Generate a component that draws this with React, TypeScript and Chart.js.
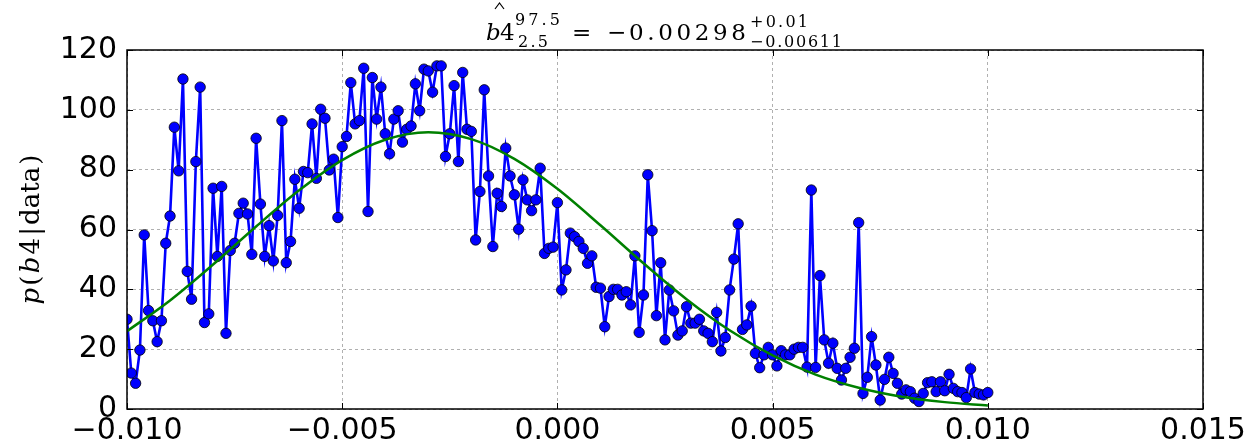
import { useEffect, useRef } from "react";
import { Chart, registerables } from "chart.js";

Chart.register(...registerables);

// ---- data ----
const X_START = -0.01;
const X_STEP = 0.0001;

const posteriorValues = [
  30, 12, 8.6, 19.7, 58.2, 32.9, 29.5, 22.5, 29.5, 55.4,
  64.5, 94.2, 79.6, 110.3, 46, 36.7, 82.7, 107.6, 28.9, 31.8,
  73.8, 51, 74.4, 25.3, 53, 55.4, 65.4, 68.8, 65.2, 51.7,
  90.5, 68.5, 51, 61.3, 49.5, 64.7, 96.4, 48.9, 56, 76.8,
  67.1, 79.4, 79, 95.3, 77.1, 100.2, 97.2, 79.9, 83.5, 64,
  87.7, 91.1, 109.1, 95.3, 96.4, 113.9, 66, 110.8, 96.9, 107.6,
  92, 85.3, 96.9, 99.7, 89.2, 93.5, 94.6, 108.7, 99.7, 113.6,
  113, 105.9, 114.7, 114.7, 84.4, 92, 108.1, 82.7, 112.5, 93.5,
  92.8, 56.5, 72.7, 106.7, 77.9, 54.3, 72.1, 67.7, 87.2, 77.9,
  71.6, 60.1, 76.6, 69.9, 66.3, 69.9, 80.5, 52, 53.7, 54.1,
  69, 39.8, 46.5, 58.8, 57.6, 56, 53.7, 48.7, 51.2, 40.7,
  40.4, 27.5, 37.6, 40, 40, 38.1, 39.2, 34.8, 51.2, 25.6,
  38.1, 78.3, 59.6, 31.2, 48.9, 23.1, 39.8, 32.8, 24.7, 26.1,
  34.2, 28.7, 28.7, 30, 26.1, 25.3, 22.5, 32.3, 19.4, 23.9,
  39.8, 50.1, 61.9, 26.6, 28.1, 34.4, 18.6, 13.8, 18.1, 20.6,
  18.1, 14.4, 19.5, 18.1, 18.1, 20, 20.6, 20.6, 14, 73.2,
  13.9, 44.6, 23.1, 15.3, 22, 13.6, 9.7, 13.6, 17.3, 20.3,
  62.3, 5.2, 10.6, 24.2, 14.7, 3, 9.9, 17.3, 11.9, 8.6,
  5, 6.4, 5.8, 3.6, 2.5, 5.2, 8.8, 9.1, 5.8, 9.1,
  6.1, 11.6, 6.9, 5.8, 5.5, 3.8, 13.4, 5.5, 5, 4.7,
  5.5,
];

const fitX = [
  -0.01, -0.009, -0.008, -0.007, -0.006, -0.005, -0.004, -0.003, -0.002, -0.001,
  0.0, 0.001, 0.002, 0.003, 0.004, 0.005, 0.006, 0.007, 0.008, 0.009, 0.01,
];
const fitY = [
  26, 36.3, 48.3, 61, 73.1, 83.2, 90, 92.5, 90.2, 83.6,
  73.6, 61.4, 48.7, 36.7, 26.3, 17.9, 11.5, 7.1, 4.1, 2.3, 1.2,
];

const xTickValues = [-0.01, -0.005, 0.0, 0.005, 0.01, 0.015];
const xTickLabels = ["\u22120.010", "\u22120.005", "0.000", "0.005", "0.010", "0.015"];
const yTickValues = [0, 20, 40, 60, 80, 100, 120];
const yTickLabels = ["0", "20", "40", "60", "80", "100", "120"];

const TICK_FONT = "DejaVu Sans";
const MATH_FONT = "DejaVu Serif";

function drawSpaced(
  ctx: CanvasRenderingContext2D,
  text: string,
  x: number,
  y: number,
  font: string,
  targetWidth?: number
) {
  ctx.font = font;
  (ctx as any).letterSpacing = "0px";
  const natural = ctx.measureText(text).width;
  if (targetWidth && text.length > 1) {
    const ls = Math.max(0, (targetWidth - natural) / (text.length - 1));
    (ctx as any).letterSpacing = `${ls}px`;
  }
  ctx.fillText(text, x, y);
  (ctx as any).letterSpacing = "0px";
}

const decorPlugin = {
  id: "decor",
  beforeDraw(chart: any) {
    const { ctx, width, height } = chart;
    ctx.save();
    ctx.fillStyle = "#ffffff";
    ctx.fillRect(0, 0, width, height);
    ctx.restore();
  },
  afterDraw(chart: any) {
    const { ctx, chartArea: a, scales } = chart;
    const xs = scales.x;
    const ys = scales.y;
    ctx.save();
    ctx.strokeStyle = "#000000";
    ctx.lineWidth = 1;
    ctx.beginPath();
    for (const v of xTickValues) {
      const px = Math.round(xs.getPixelForValue(v)) + 0.5;
      ctx.moveTo(px, a.bottom);
      ctx.lineTo(px, a.bottom - 6);
      ctx.moveTo(px, a.top);
      ctx.lineTo(px, a.top + 6);
    }
    for (const v of yTickValues) {
      const py = Math.round(ys.getPixelForValue(v)) + 0.5;
      ctx.moveTo(a.left, py);
      ctx.lineTo(a.left + 6, py);
      ctx.moveTo(a.right, py);
      ctx.lineTo(a.right - 6, py);
    }
    ctx.stroke();

    // frame
    ctx.lineWidth = 1.5;
    ctx.strokeRect(a.left, a.top, a.right - a.left, a.bottom - a.top);

    // title (math-like)
    const cx = (a.left + a.right) / 2;
    ctx.fillStyle = "#000000";
    ctx.textAlign = "left";
    ctx.textBaseline = "alphabetic";
    const big = `23px ${MATH_FONT}`;
    const bigIt = `italic 23px ${MATH_FONT}`;
    const small = `16px ${MATH_FONT}`;
    drawSpaced(ctx, "b", cx - 179, 40, bigIt);
    drawSpaced(ctx, "4", cx - 165, 40, big);
    ctx.lineWidth = 1.2;
    ctx.beginPath();
    ctx.moveTo(cx - 170, 9);
    ctx.lineTo(cx - 165.5, 3);
    ctx.lineTo(cx - 161, 9);
    ctx.stroke();
    drawSpaced(ctx, "97.5", cx - 150, 25, small, 45);
    drawSpaced(ctx, "2.5", cx - 147, 47, small, 30);
    drawSpaced(ctx, "=", cx - 93, 40, big);
    drawSpaced(ctx, "\u2212", cx - 58, 40, big);
    drawSpaced(ctx, "0.00298", cx - 36, 40, big, 117);
    drawSpaced(ctx, "+0.01", cx + 85, 27, small, 58);
    drawSpaced(ctx, "\u22120.00611", cx + 85, 47, small, 92);

    // y label
    const cy = (a.top + a.bottom) / 2;
    ctx.save();
    ctx.translate(39, cy);
    ctx.rotate(-Math.PI / 2);
    const pieces = [
      { t: "p", it: true },
      { t: "(", it: false },
      { t: "b", it: true },
      { t: "4", it: false },
      { t: "|", it: false },
      { t: "data", it: false },
      { t: ")", it: false },
    ];
    const sz = 26;
    let total = 0;
    const widths: number[] = [];
    for (const p of pieces) {
      ctx.font = `${p.it ? "italic " : ""}${sz}px ${MATH_FONT}`;
      const w = ctx.measureText(p.t).width;
      widths.push(w);
      total += w;
    }
    const target = 150;
    const gap = Math.max(0, (target - total) / (pieces.length - 1));
    const span = total + gap * (pieces.length - 1);
    let xx = -span / 2;
    pieces.forEach((p, i) => {
      ctx.font = `${p.it ? "italic " : ""}${sz}px ${MATH_FONT}`;
      ctx.fillText(p.t, xx, 0);
      xx += widths[i] + gap;
    });
    ctx.restore();

    ctx.restore();
  },
};

export default function App() {
  const canvasRef = useRef<HTMLCanvasElement | null>(null);

  useEffect(() => {
    const canvas = canvasRef.current;
    if (!canvas) return;
    const chart = new Chart(canvas, {
      type: "line",
      data: {
        datasets: [
          {
            label: "fit",
            data: fitX.map((x, i) => ({ x, y: fitY[i] })),
            borderColor: "#008000",
            backgroundColor: "#008000",
            borderWidth: 2.5,
            pointRadius: 0,
            cubicInterpolationMode: "monotone",
            fill: false,
          },
          {
            label: "posterior",
            data: posteriorValues.map((y, i) => ({ x: X_START + i * X_STEP, y })),
            borderColor: "#0000ff",
            backgroundColor: "#0000ff",
            borderWidth: 2.6,
            pointRadius: 5.2,
            pointBackgroundColor: "#0000ff",
            pointBorderColor: "#000000",
            pointBorderWidth: 0.8,
            tension: 0,
            fill: false,
          },
        ],
      },
      options: {
        animation: false,
        responsive: false,
        devicePixelRatio: 1,
        events: [],
        layout: { padding: { top: 50, right: 55, left: 0, bottom: 0 } },
        plugins: {
          legend: { display: false },
          tooltip: { enabled: false },
          title: { display: false },
        },
        scales: {
          x: {
            type: "linear",
            min: -0.01,
            max: 0.015,
            afterBuildTicks: (scale: any) => {
              scale.ticks = xTickValues.map((v) => ({ value: v }));
            },
            afterFit: (scale: any) => {
              scale.height = 36;
            },
            ticks: {
              autoSkip: false,
              maxRotation: 0,
              minRotation: 0,
              padding: 4,
              color: "#000000",
              font: { family: TICK_FONT, size: 30 },
              callback: (_v: any, i: number) => xTickLabels[i],
            },
            grid: { color: "#b0b0b0", lineWidth: 1, drawTicks: false },
            border: { display: false, dash: [3, 3] },
          },
          y: {
            type: "linear",
            min: 0,
            max: 120,
            afterBuildTicks: (scale: any) => {
              scale.ticks = yTickValues.map((v) => ({ value: v }));
            },
            afterFit: (scale: any) => {
              scale.width = 127;
            },
            ticks: {
              autoSkip: false,
              padding: 10,
              color: "#000000",
              font: { family: TICK_FONT, size: 30 },
              callback: (_v: any, i: number) => yTickLabels[i],
            },
            grid: { color: "#b0b0b0", lineWidth: 1, drawTicks: false },
            border: { display: false, dash: [3, 3] },
          },
        },
      },
      plugins: [decorPlugin],
    } as any);
    return () => chart.destroy();
  }, []);

  return (
    <div style={{ position: "fixed", left: 0, top: 0, width: 1258, height: 445 }}>
      <canvas ref={canvasRef} width={1258} height={445} style={{ width: 1258, height: 445, display: "block" }} />
    </div>
  );
}
